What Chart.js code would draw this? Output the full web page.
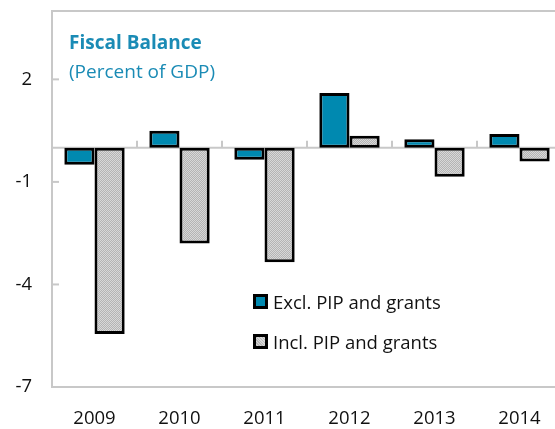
<!DOCTYPE html>
<html lang="en">
  <head>
    <meta charset="UTF-8" />
    <title>Fiscal Balance</title>
    <script src="https://cdn.jsdelivr.net/npm/chart.js"></script>
    <style>
      * {
        margin: 0;
        padding: 0;
        box-sizing: border-box;
      }
      body {
        background: #fff;
        width: 555px;
        height: 429px;
        overflow: hidden;
        font-family: "Open Sans", sans-serif;
      }
      .wrap {
        position: relative;
        width: 570px;
        height: 429px;
      }
      .title {
        position: absolute;
        left: 69px;
        top: 28px;
        color: #1a8bb5;
        font-size: 19px;
        line-height: 29px;
      }
      .title b {
        font-weight: bold;
        font-size: 19px;
      }
      .legend {
        position: absolute;
        left: 253px;
        top: 288px;
        font-size: 18.5px;
        color: #111;
      }
      .legend div {
        display: flex;
        align-items: center;
        height: 26px;
        margin-bottom: 14px;
      }
      .legend span.box {
        display: inline-block;
        width: 15px;
        height: 15px;
        border: 3px solid #000;
        margin-right: 5px;
      }
    </style>
  </head>
  <body>
    <div class="wrap">
      <canvas id="fiscal" width="570" height="429"></canvas>
      <div class="title"><b>Fiscal Balance</b><br />(Percent of GDP)</div>
      <div class="legend">
        <div><span class="box" style="background: #0089b0"></span>Excl. PIP and grants</div>
        <div>
          <span
            class="box"
            style="background: repeating-linear-gradient(45deg, #b8b8b8 0 1px, #d8d8d8 1px 2px)"
          ></span
          >Incl. PIP and grants
        </div>
      </div>
    </div>

    <script>
      const years = ["2009", "2010", "2011", "2012", "2013", "2014"];
      const exclGrants = [-0.5, 0.5, -0.35, 1.6, 0.25, 0.4];
      const inclGrants = [-5.45, -2.8, -3.35, 0.35, -0.85, -0.4];
      const yTicks = [-7, -4, -1, 2];

      const frameColor = "#c8c8c8";

      // fine grey hatch for the second series
      const pc = document.createElement("canvas");
      pc.width = 2;
      pc.height = 2;
      const px = pc.getContext("2d");
      px.fillStyle = "#d8d8d8";
      px.fillRect(0, 0, 2, 2);
      px.fillStyle = "#b4b4b4";
      px.fillRect(0, 1, 1, 1);
      px.fillRect(1, 0, 1, 1);
      const hatch = px.createPattern(pc, "repeat");

      const framePlugin = {
        id: "frame",
        beforeDatasetsDraw(chart) {
          const { ctx, chartArea: a, scales } = chart;
          ctx.save();
          ctx.strokeStyle = frameColor;
          ctx.lineWidth = 2;
          // zero line
          const y0 = scales.y.getPixelForValue(0);
          ctx.beginPath();
          ctx.moveTo(a.left, y0);
          ctx.lineTo(a.right, y0);
          ctx.stroke();
          // category ticks on zero line
          const step = (a.right - a.left) / years.length;
          for (let i = 1; i < years.length; i++) {
            const x = Math.round(a.left + step * i);
            ctx.beginPath();
            ctx.moveTo(x, y0);
            ctx.lineTo(x, y0 - 7);
            ctx.stroke();
          }
          // y ticks inside
          yTicks.forEach((v) => {
            const y = scales.y.getPixelForValue(v);
            ctx.beginPath();
            ctx.moveTo(a.left, y);
            ctx.lineTo(a.left + 7, y);
            ctx.stroke();
          });
          ctx.strokeRect(a.left, a.top, a.right - a.left, a.bottom - a.top);
          ctx.restore();
        },
      };

      new Chart(document.getElementById("fiscal"), {
        type: "bar",
        data: {
          labels: years,
          datasets: [
            {
              label: "Excl. PIP and grants",
              data: exclGrants,
              backgroundColor: "#0089b0",
              borderColor: "#000",
              borderWidth: 3,
              borderSkipped: false,
            },
            {
              label: "Incl. PIP and grants",
              data: inclGrants,
              backgroundColor: hatch,
              borderColor: "#000",
              borderWidth: 3,
              borderSkipped: false,
            },
          ],
        },
        options: {
          responsive: false,
          animation: false,
          events: [],
          categoryPercentage: 0.71,
          barPercentage: 1,
          layout: { padding: { top: 11, right: 8 } },
          plugins: {
            legend: { display: false },
            tooltip: { enabled: false },
          },
          scales: {
            x: {
              grid: { display: false, drawTicks: false },
              border: { display: false },
              ticks: {
                color: "#111",
                font: { family: "Open Sans", size: 18.5 },
                padding: 21,
              },
              afterFit(s) {
                s.height = 42;
                s.paddingLeft = 0;
                s.paddingRight = 0;
              },
            },
            y: {
              min: -7,
              max: 4,
              afterBuildTicks(s) {
                s.ticks = yTicks.map((v) => ({ value: v }));
              },
              grid: { display: false, drawTicks: false },
              border: { display: false },
              ticks: {
                color: "#111",
                font: { family: "Open Sans", size: 18.5 },
                padding: 20,
              },
              afterFit(s) {
                s.width = 52;
                s.paddingTop = 0;
                s.paddingBottom = 0;
              },
            },
          },
        },
        plugins: [framePlugin],
      });
    </script>
  </body>
</html>
